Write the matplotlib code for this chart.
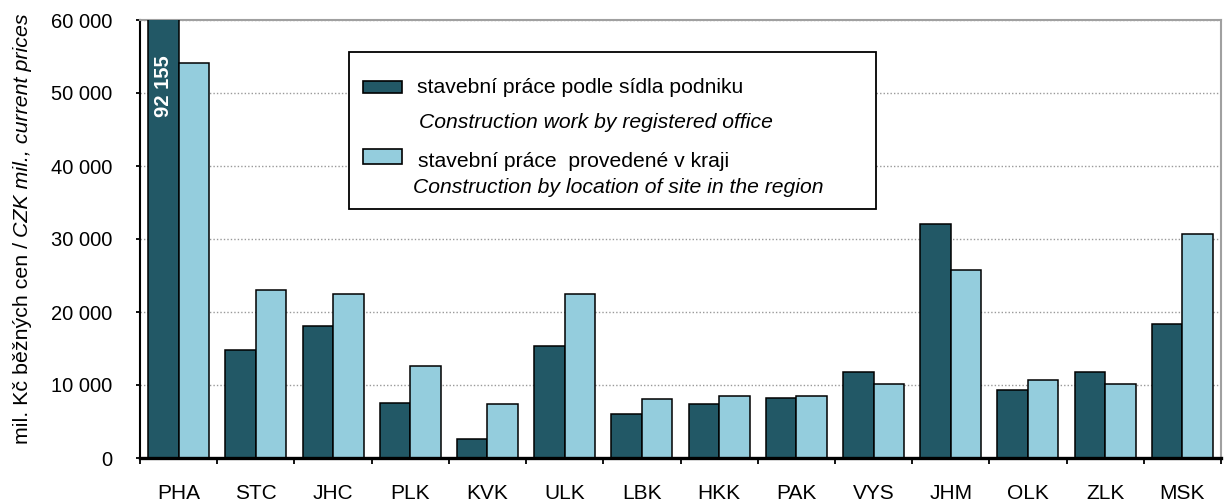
import matplotlib
matplotlib.use("Agg")
import matplotlib.pyplot as plt
import numpy as np
from matplotlib.patches import Rectangle
from matplotlib.ticker import FixedLocator, FuncFormatter

# Kraje (zkratky)
regions = ['PHA', 'STC', 'JHC', 'PLK', 'KVK', 'ULK', 'LBK',
           'HKK', 'PAK', 'VYS', 'JHM', 'OLK', 'ZLK', 'MSK']

# stavební práce podle sídla podniku, mil. Kč
by_office = [92155, 14800, 18050, 7600, 2620, 15300, 5980,
             7330, 8160, 11730, 32070, 9260, 11730, 18330]

# stavební práce provedené v kraji, mil. Kč
by_site = [54150, 23000, 22500, 12550, 7360, 22500, 8140,
           8430, 8430, 10080, 25700, 10630, 10080, 30700]

y_ticks = [0, 10000, 20000, 30000, 40000, 50000, 60000]
y_max = 60000

legend_cz = ['stavební práce podle sídla podniku', 'stavební práce  provedené v kraji']
legend_en = ['Construction work by registered office',
             'Construction by location of site in the region']

ylabel_cz = 'mil. Kč běžných cen /'
ylabel_en = 'CZK mil., current prices'

DARK = '#225866'
LIGHT = '#94CDDD'
FONT = 'Liberation Sans'


def space_thousands(v, pos=None):
    return f'{v:,.0f}'.replace(',', ' ')


def draw_legend(ax):
    # rámeček legendy
    ax.add_patch(Rectangle((0.1933, 0.5685), 0.4877, 0.3585, transform=ax.transAxes,
                           facecolor='white', edgecolor='black', lw=1.3, zorder=5))
    # barevné čtverečky
    ax.add_patch(Rectangle((0.2063, 0.8322), 0.0361, 0.0285, transform=ax.transAxes,
                           facecolor=DARK, edgecolor='black', lw=1.2, zorder=6))
    ax.add_patch(Rectangle((0.2063, 0.6712), 0.0361, 0.0340, transform=ax.transAxes,
                           facecolor=LIGHT, edgecolor='black', lw=1.2, zorder=6))
    kw = dict(transform=ax.transAxes, va='baseline', ha='left', fontsize=15.2,
              family=FONT, zorder=7)
    ax.text(0.2562, 0.8340, legend_cz[0], **kw)
    ax.text(0.2581, 0.7534, legend_en[0], style='italic', **kw)
    ax.text(0.2572, 0.6644, legend_cz[1], **kw)
    ax.text(0.2523, 0.6050, legend_en[1], style='italic', **kw)


def plot_chart(output_path='out.png'):
    fig = plt.figure(figsize=(12.27, 5.04), dpi=100)
    ax = fig.add_axes([140 / 1227, 46 / 504, 1081 / 1227, 438 / 504])

    x = np.arange(len(regions))
    w = 0.395
    ax.bar(x - w / 2, by_office, width=w, color=DARK, edgecolor='black', lw=1.1, zorder=3)
    ax.bar(x + w / 2, by_site, width=w, color=LIGHT, edgecolor='black', lw=1.1, zorder=3)

    ax.set_xlim(-0.5, len(regions) - 0.5)
    ax.set_ylim(0, y_max)

    # hodnota Prahy přesahuje osu
    ax.text(x[0] - w / 2, 55200, space_thousands(by_office[0]), rotation=90,
            ha='center', va='top', color='white', fontsize=14.5, fontweight='bold',
            family=FONT, zorder=4)

    # osa y
    ax.yaxis.set_major_locator(FixedLocator(y_ticks))
    ax.yaxis.set_major_formatter(FuncFormatter(space_thousands))
    ax.tick_params(axis='y', direction='out', length=3, width=1.3, pad=17,
                   labelsize=14.5, colors='black')
    for lbl in ax.get_yticklabels():
        lbl.set_family(FONT)
    ax.grid(axis='y', color='#999999', linestyle=(0, (1, 1.5)), lw=1, zorder=0)

    # osa x: popisky na středech, značky na hranicích
    ax.set_xticks(x)
    ax.set_xticklabels(regions, family=FONT, fontsize=15)
    ax.set_xticks(np.arange(len(regions) + 1) - 0.5, minor=True)
    ax.tick_params(axis='x', which='major', length=0, pad=19)
    ax.tick_params(axis='x', which='minor', direction='out', length=4, width=1.3)

    for side in ['top', 'right']:
        ax.spines[side].set_color('#A0A0A0')
        ax.spines[side].set_linewidth(1.5)
    ax.spines['left'].set_linewidth(1.5)
    ax.spines['bottom'].set_linewidth(2.4)
    ax.spines['bottom'].set_zorder(6)

    draw_legend(ax)

    # popis osy y: česky rovně, anglicky kurzívou
    t1 = fig.text(23 / 1227, 60 / 504, ylabel_cz, rotation=90, ha='center', va='bottom',
                  fontsize=15.4, family=FONT)
    fig.canvas.draw()
    bb = t1.get_window_extent(fig.canvas.get_renderer())
    fig.text(23 / 1227, (bb.y1 + 5) / fig.bbox.height, ylabel_en, rotation=90,
             ha='center', va='bottom', fontsize=15.4, family=FONT, style='italic')

    fig.savefig(output_path, dpi=100)
    return output_path


if __name__ == '__main__':
    plot_chart()
